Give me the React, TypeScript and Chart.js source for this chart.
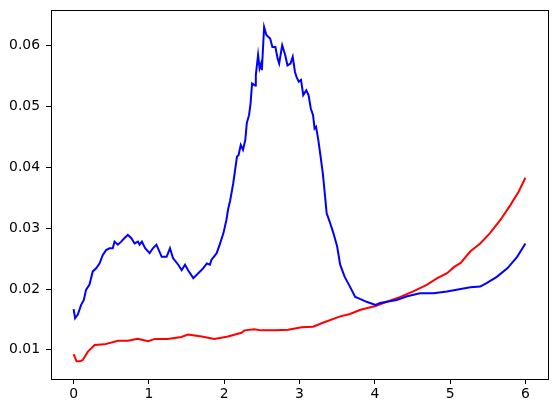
import React, { useEffect, useRef } from "react";
import { Chart, registerables } from "chart.js";

Chart.register(...registerables);

const blueX = [0, 0.02, 0.056, 0.1, 0.136, 0.166, 0.21, 0.255, 0.3, 0.344, 0.388, 0.432, 0.477, 0.52, 0.544, 0.588, 0.632, 0.677, 0.72, 0.765, 0.81, 0.854, 0.876, 0.907, 0.95, 1.01, 1.053, 1.1, 1.17, 1.235, 1.28, 1.32, 1.39, 1.435, 1.48, 1.52, 1.59, 1.655, 1.72, 1.77, 1.81, 1.83, 1.9, 1.94, 1.99, 2.03, 2.05, 2.08, 2.12, 2.17, 2.19, 2.22, 2.25, 2.28, 2.3, 2.33, 2.35, 2.37, 2.41, 2.42, 2.45, 2.47, 2.49, 2.5, 2.53, 2.56, 2.61, 2.64, 2.68, 2.71, 2.73, 2.77, 2.81, 2.84, 2.88, 2.91, 2.94, 2.96, 2.99, 3.02, 3.05, 3.09, 3.12, 3.15, 3.18, 3.2, 3.22, 3.25, 3.28, 3.31, 3.34, 3.36, 3.4, 3.45, 3.5, 3.54, 3.6, 3.67, 3.74, 3.78, 3.89, 4.01, 4.07, 4.16, 4.29, 4.43, 4.6, 4.78, 4.96, 5.14, 5.27, 5.4, 5.49, 5.62, 5.76, 5.89, 6.0];
const blueY = [0.0167, 0.0152, 0.0158, 0.0174, 0.0182, 0.0199, 0.0207, 0.0229, 0.0234, 0.0242, 0.0256, 0.0264, 0.0267, 0.0267, 0.0278, 0.0273, 0.0278, 0.0284, 0.0289, 0.0284, 0.0275, 0.0278, 0.0273, 0.0278, 0.0267, 0.0259, 0.0267, 0.0273, 0.0253, 0.0253, 0.0267, 0.0251, 0.024, 0.0231, 0.024, 0.0231, 0.0218, 0.0226, 0.0234, 0.0242, 0.024, 0.0248, 0.0259, 0.0273, 0.0292, 0.0314, 0.033, 0.0346, 0.0374, 0.0418, 0.042, 0.0437, 0.0429, 0.0445, 0.0473, 0.0486, 0.0505, 0.0538, 0.0535, 0.0552, 0.0585, 0.0563, 0.0571, 0.056, 0.0631, 0.0618, 0.0612, 0.0598, 0.0598, 0.0579, 0.0571, 0.0601, 0.0585, 0.0568, 0.0571, 0.0582, 0.0557, 0.0549, 0.0541, 0.0544, 0.0519, 0.0527, 0.0519, 0.0497, 0.0486, 0.0464, 0.0467, 0.0445, 0.0418, 0.039, 0.0352, 0.0325, 0.0311, 0.0292, 0.027, 0.024, 0.022, 0.0204, 0.0187, 0.0185, 0.0179, 0.0174, 0.0177, 0.0179, 0.0182, 0.0188, 0.0193, 0.0193, 0.0196, 0.02, 0.0203, 0.0204, 0.021, 0.022, 0.0234, 0.0253, 0.0275];

const redX = [0, 0.04, 0.08, 0.12, 0.19, 0.28, 0.41, 0.59, 0.72, 0.85, 0.99, 1.08, 1.25, 1.43, 1.52, 1.7, 1.87, 2.05, 2.23, 2.27, 2.4, 2.49, 2.67, 2.85, 3.03, 3.18, 3.32, 3.54, 3.67, 3.81, 4.01, 4.16, 4.34, 4.51, 4.69, 4.83, 4.96, 5.05, 5.14, 5.27, 5.4, 5.53, 5.67, 5.8, 5.91, 6.0];
const redY = [0.0093, 0.0081, 0.0081, 0.0083, 0.0097, 0.0108, 0.0109, 0.0115, 0.0115, 0.0118, 0.0114, 0.0118, 0.0118, 0.0121, 0.0125, 0.0122, 0.0118, 0.0122, 0.0128, 0.0132, 0.0134, 0.0132, 0.0132, 0.0133, 0.0137, 0.0138, 0.0145, 0.0155, 0.0159, 0.0166, 0.0172, 0.0179, 0.0187, 0.0196, 0.0207, 0.0218, 0.0226, 0.0236, 0.0243, 0.0262, 0.0275, 0.0292, 0.0314, 0.0338, 0.036, 0.0383];

const xTicks = [0, 1, 2, 3, 4, 5, 6];
const yTicks = [0.01, 0.02, 0.03, 0.04, 0.05, 0.06];

const framePlugin = {
  id: "frame",
  afterDraw(chart: any) {
    const { ctx, chartArea } = chart;
    ctx.save();
    ctx.strokeStyle = "#000";
    ctx.lineWidth = 1;
    ctx.strokeRect(
      Math.round(chartArea.left) + 0.5,
      Math.round(chartArea.top) + 0.5,
      Math.round(chartArea.right - chartArea.left),
      Math.round(chartArea.bottom - chartArea.top)
    );
    ctx.restore();
  },
};

export default function App() {
  const ref = useRef<HTMLCanvasElement>(null);
  useEffect(() => {
    const font = { family: "DejaVu Sans", size: 13.9 };
    const chart = new Chart(ref.current!, {
      type: "line",
      data: {
        datasets: [
          {
            data: blueX.map((x, i) => ({ x, y: blueY[i] })),
            borderColor: "#0000ff",
            borderWidth: 2,
            pointRadius: 0,
            tension: 0,
          },
          {
            data: redX.map((x, i) => ({ x, y: redY[i] })),
            borderColor: "#ff0000",
            borderWidth: 2,
            pointRadius: 0,
            tension: 0,
          },
        ],
      },
      options: {
        animation: false,
        responsive: false,
        layout: { padding: { top: 10, right: 8, left: 0, bottom: 0 } },
        plugins: { legend: { display: false }, tooltip: { enabled: false } },
        scales: {
          x: {
            type: "linear",
            min: -0.3,
            max: 6.3,
            afterBuildTicks: (s: any) => {
              s.ticks = xTicks.map((v) => ({ value: v }));
            },
            afterFit: (s: any) => {
              s.height = 34;
              s.paddingLeft = 0;
              s.paddingRight = 0;
            },
            grid: { drawOnChartArea: false, drawTicks: true, tickLength: 5, color: "#000" },
            border: { display: true, color: "#000" },
            ticks: { color: "#000", font, padding: 2, maxRotation: 0, callback: (v: any) => String(v) },
          },
          y: {
            type: "linear",
            min: 0.0052,
            max: 0.0659,
            afterBuildTicks: (s: any) => {
              s.ticks = yTicks.map((v) => ({ value: v }));
            },
            afterFit: (s: any) => {
              s.width = 51;
              s.paddingTop = 0;
              s.paddingBottom = 0;
            },
            grid: { drawOnChartArea: false, drawTicks: true, tickLength: 5, color: "#000" },
            border: { display: true, color: "#000" },
            ticks: { color: "#000", font, padding: 6, callback: (v: any) => Number(v).toFixed(2) },
          },
        },
      },
      plugins: [framePlugin],
    });
    return () => chart.destroy();
  }, []);
  return (
    <div style={{ position: "fixed", left: 0, top: 0, width: 556, height: 413, background: "#fff" }}>
      <canvas ref={ref} width={556} height={413} style={{ display: "block" }} />
    </div>
  );
}
